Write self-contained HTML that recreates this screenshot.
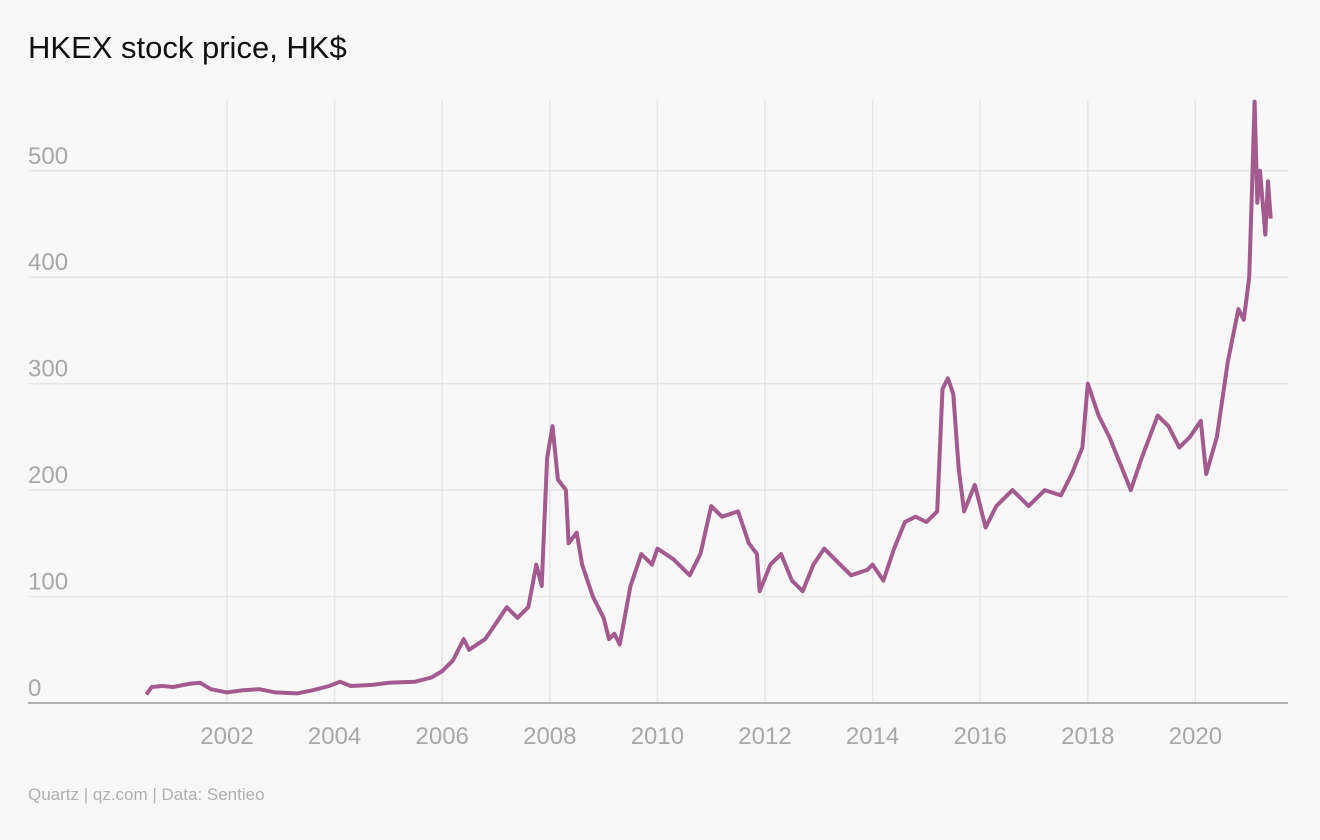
<!DOCTYPE html>
<html><head><meta charset="utf-8"><style>
body{margin:0;background:#f8f8f8;font-family:"Liberation Sans",sans-serif;}
svg{display:block}
</style></head><body>
<svg id="chart" width="1320" height="840">
<rect width="1320" height="840" fill="#f8f8f8"/>
<text x="28" y="58" font-size="31" fill="#111">HKEX stock price, HK$</text>
<g id="grid"></g>
<g id="labels"></g>
<path id="line" fill="none" stroke="#a35a8e" stroke-width="4" stroke-linejoin="round"/>
<text x="28" y="800" font-size="17" fill="#b0b0b0">Quartz | qz.com | Data: Sentieo</text>
</svg>
<script>
const dates=[2000.5,2000.6,2000.8,2001.0,2001.3,2001.5,2001.7,2002.0,2002.3,2002.6,2002.9,2003.3,2003.6,2003.9,2004.1,2004.3,2004.7,2005.0,2005.5,2005.8,2006.0,2006.2,2006.4,2006.5,2006.8,2007.0,2007.2,2007.4,2007.6,2007.75,2007.85,2007.95,2008.05,2008.15,2008.3,2008.35,2008.5,2008.6,2008.8,2009.0,2009.1,2009.2,2009.3,2009.5,2009.7,2009.9,2010.0,2010.3,2010.6,2010.8,2011.0,2011.2,2011.5,2011.7,2011.85,2011.9,2012.1,2012.3,2012.5,2012.7,2012.9,2013.1,2013.3,2013.6,2013.9,2014.0,2014.2,2014.4,2014.6,2014.8,2015.0,2015.2,2015.3,2015.4,2015.5,2015.6,2015.7,2015.9,2016.1,2016.3,2016.6,2016.9,2017.2,2017.5,2017.7,2017.9,2018.0,2018.2,2018.4,2018.6,2018.8,2019.0,2019.3,2019.5,2019.7,2019.9,2020.1,2020.2,2020.4,2020.6,2020.8,2020.9,2021.0,2021.05,2021.1,2021.15,2021.2,2021.3,2021.35,2021.4];
const prices=[8,15,16,15,18,19,13,10,12,13,10,9,12,16,20,16,17,19,20,24,30,40,60,50,60,75,90,80,90,130,110,230,260,210,200,150,160,130,100,80,60,65,55,110,140,130,145,135,120,140,185,175,180,150,140,105,130,140,115,105,130,145,135,120,125,130,115,145,170,175,170,180,295,305,290,220,180,205,165,185,200,185,200,195,215,240,300,270,250,225,200,230,270,260,240,250,265,215,250,320,370,360,400,480,565,470,500,440,490,455];
const yTicks=[0,100,200,300,400,500];
const xTicks=[2002,2004,2006,2008,2010,2012,2014,2016,2018,2020];
const X=d=>227+(d-2002)*53.8;
const Y=v=>703-v*1.0645;
const ns="http://www.w3.org/2000/svg";
const grid=document.getElementById('grid'),labels=document.getElementById('labels');
function mk(tag,attrs,parent){const e=document.createElementNS(ns,tag);for(const k in attrs)e.setAttribute(k,attrs[k]);parent.appendChild(e);return e;}
xTicks.forEach(t=>{
 const l=mk('line',{x1:X(t),x2:X(t),y1:100,y2:703,stroke:'#e6e6e6','stroke-width':1.5},grid);
 
 
 const tx=mk('text',{x:X(t),y:744,'font-size':24,fill:'#a8a8a8','text-anchor':'middle'},labels);
 tx.textContent=t;
 
 
});
yTicks.forEach(t=>{
 const l=mk('line',{x1:28,x2:1288,y1:Y(t),y2:Y(t),stroke:t===0?'#999':'#e6e6e6','stroke-width':1.5},grid);
 
 
 const tx=mk('text',{x:28,y:Y(t)-7,'font-size':24,fill:'#a8a8a8'},labels);
 tx.textContent=t;
 
 
});
document.getElementById('line').setAttribute('d',dates.map((d,i)=>(i?'L':'M')+X(d).toFixed(1)+','+Y(prices[i]).toFixed(1)).join(''));
</script>
</body></html>
